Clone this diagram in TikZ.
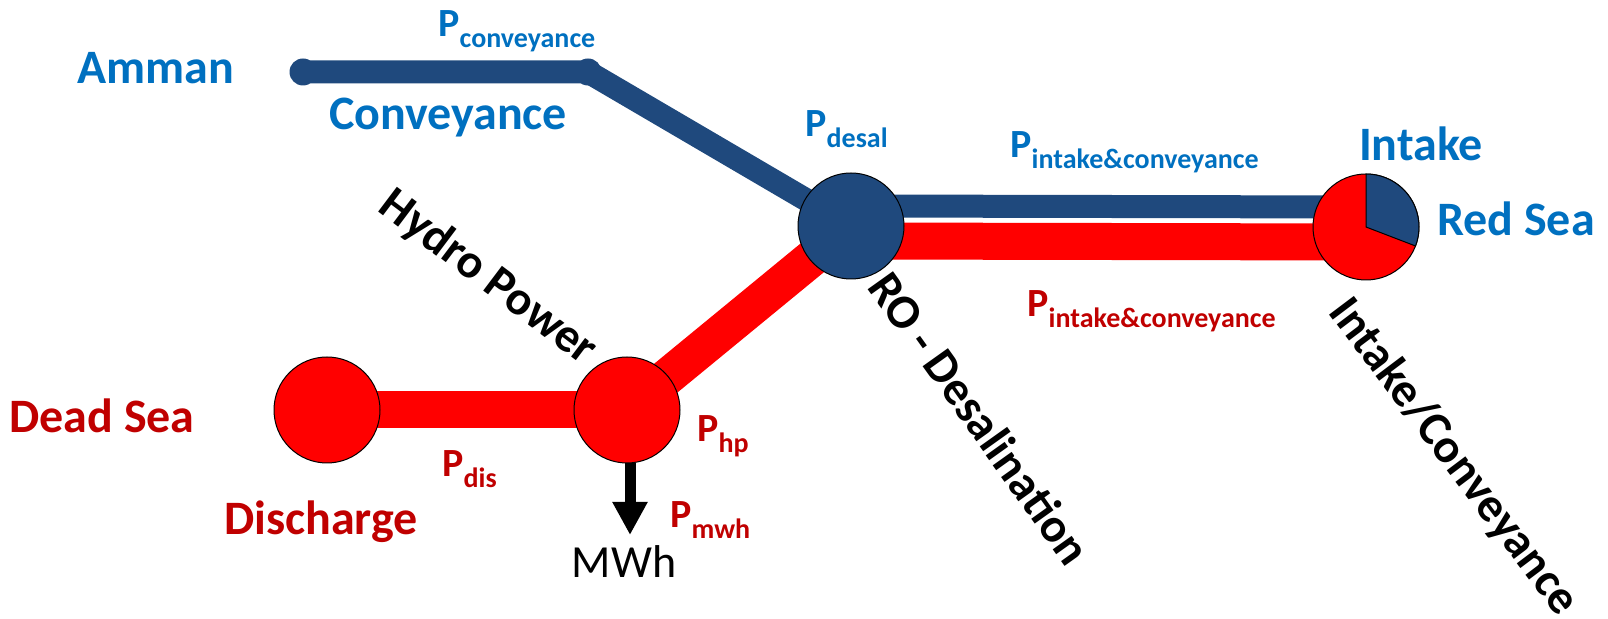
\documentclass[tikz,border=0pt]{standalone}
\usepackage{fontspec}
\setmainfont{Carlito}
\usetikzlibrary{arrows.meta,backgrounds}
\definecolor{pipeblue}{HTML}{1F497D}
\definecolor{pipered}{HTML}{FF0000}
\definecolor{txtblue}{HTML}{0070C0}
\definecolor{txtred}{HTML}{C00000}
\newcommand{\plab}[1]{{\fontsize{20}{22}\selectfont P}\raisebox{-5.5pt}{\fontsize{14}{16}\selectfont #1}}

\begin{document}
\begin{tikzpicture}[x=0.5pt,y=-0.5pt,
  every node/.style={font=\bfseries,inner sep=0pt},
  bigtxt/.style={font=\fontsize{24}{28}\selectfont\bfseries,anchor=base},
  turned/.style={font=\fontsize{24}{28}\selectfont\bfseries,text=black},
  plabel/.style={anchor=base west},
  blueside/.style={text=txtblue},
  redside/.style={text=txtred},
  tank/.style={circle,draw=black,line width=0.5pt,minimum size=53pt},
  pipedot/.style={circle,fill=pipeblue,minimum size=13.5pt},
  bluepipe/.style={draw=pipeblue,line width=11.5pt,line join=round},
  redpipe/.style={draw=pipered,line width=18.5pt}]
\useasboundingbox (0,0) rectangle (1608,619);
\node[tank,fill=pipeblue] (ro) at (851,226) {};
\node[tank,fill=pipered] (intake) at (1366,227) {};
\filldraw[fill=pipeblue,draw=black,line width=0.5pt] (intake.center) -- ++(90:26.5pt) arc[start angle=90,end angle=-21,radius=26.5pt] -- cycle;
\node[tank,fill=pipered] (hydro) at (627,410) {};
\node[tank,fill=pipered] (deadsea) at (327,410) {};
\node[pipedot] (ammanend) at (303,72) {};
\node[pipedot] (bend) at (588,72) {};
\begin{scope}[on background layer]
\draw[bluepipe] (ammanend.center) -- (bend.center) -- (ro.center);
\draw[bluepipe] ([yshift=10pt]ro.center) -- ([yshift=10pt]intake.center);
\draw[redpipe] ([yshift=-7.5pt]ro.center) -- ([yshift=-7.5pt]intake.center);
\draw[redpipe] (ro.center) -- (hydro.center);
\draw[redpipe] (hydro.center) -- (deadsea.center);
\end{scope}
\coordinate (mwhtip) at (630,535);
\draw[line width=5.5pt,-{Triangle[width=16.5pt,length=16.5pt]}] (hydro.south -| mwhtip) -- (mwhtip);
\node[bigtxt,blueside] (amman) at (156,84) {Amman};
\node[bigtxt,blueside] (conv) at (448,130) {Conveyance};
\node[bigtxt,blueside] (intaketxt) at (1421,161) {Intake};
\node[bigtxt,blueside] (redsea) at (1516,236) {Red Sea};
\node[bigtxt,redside] (deadseatxt) at (102,433) {Dead Sea};
\node[bigtxt,redside] (discharge) at (321,535) {Discharge};
\node[anchor=base,font=\fontsize{23}{28}\selectfont] (mwh) at (624,578) {MWh};
\node[plabel,blueside] (pconv) at (438,37) {\plab{conveyance}};
\node[plabel,blueside] (pdesal) at (805,137) {\plab{desal}};
\node[plabel,blueside] (pintb) at (1010,158) {\plab{intake\&conveyance}};
\node[plabel,redside] (pintr) at (1027,317) {\plab{intake\&conveyance}};
\node[plabel,redside] (php) at (697,442) {\plab{hp}};
\node[plabel,redside] (pdis) at (442,477) {\plab{dis}};
\node[plabel,redside] (pmwh) at (670,528) {\plab{mwh}};
\node[turned,rotate=-37] (hydrotxt) at (488,278) {Hydro Power};
\node[turned,rotate=-54.5] (rotxt) at (980,418) {RO - Desalination};
\node[turned,rotate=-53] (inconvtxt) at (1453,457) {Intake/Conveyance};
\end{tikzpicture}
\end{document}
